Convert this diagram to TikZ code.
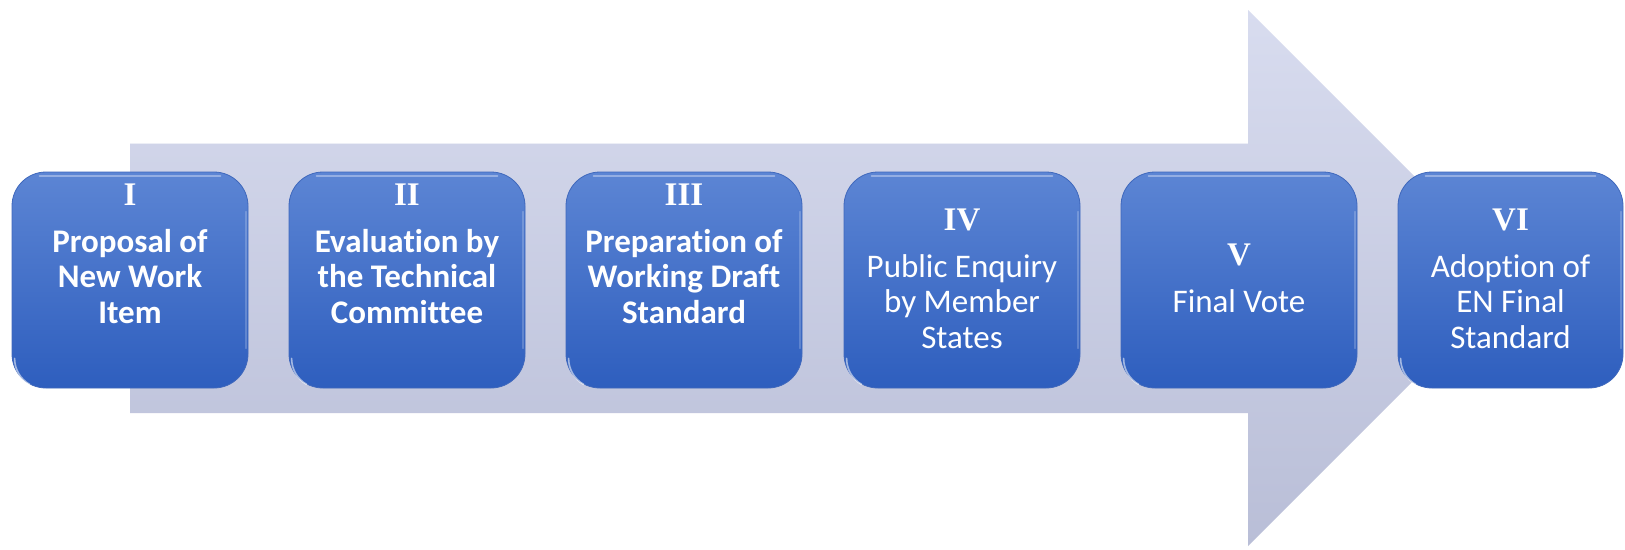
\documentclass[tikz,border=0pt]{standalone}
\usepackage{fontspec}
\setmainfont[Ligatures=NoCommon]{Carlito}
\newfontfamily\numfont{Liberation Serif}
\definecolor{arrowtop}{HTML}{D8DCEF}
\definecolor{arrowbot}{HTML}{B9BED7}
\definecolor{boxtop}{HTML}{5C85D4}
\definecolor{boxbot}{HTML}{2E5EBE}
\definecolor{boxrim}{HTML}{3F68BC}
\newcommand{\stagenum}[1]{{\numfont\bfseries\fontsize{33}{35}\selectfont #1}}
\begin{document}
\begin{tikzpicture}[x=1pt,y=-1pt,
  stagebox/.style={rounded corners=34pt, minimum width=236pt, minimum height=216pt,
    inner sep=0pt, top color=boxtop, bottom color=boxbot, draw=boxrim, line width=0.8pt},
  stagetext/.style={anchor=base, inner sep=0pt, text=white,
    font=\fontsize{33}{35.5}\selectfont},
  gloss/.style={white, line cap=round},
]
\useasboundingbox (0,0) rectangle (1625,549);
\fill[white] (0,0) rectangle (1625,549);

% big process arrow in the background
\coordinate (bodyTL) at (130,143);
\coordinate (bodyBL) at (130,413);
\coordinate (tip) at (1516,278);
\shade[top color=arrowtop, bottom color=arrowbot]
  (bodyTL) -- (1248,143) -- (1248,10) -- (tip) -- (1248,546) -- (1248,413) -- (bodyBL) -- cycle;
\draw[white, opacity=0.6, line width=1.2pt] (bodyTL) -- (1248,143);

% stage boxes
\foreach \i/\cx/\w in {1/130/236,2/407/236,3/684/236,4/962/236,5/1239/236,6/1510.5/225}{
  \node[stagebox, minimum width=\w pt] (s\i) at (\cx,280) {};
  \draw[gloss, opacity=0.35, line width=2pt]
    ([xshift=28pt,yshift=-4pt]s\i.north west) -- ([xshift=-28pt,yshift=-4pt]s\i.north east);
  \draw[gloss, opacity=0.55, line width=1.6pt]
    ([xshift=3pt,yshift=30pt]s\i.south west) arc[start angle=180, end angle=240, radius=30pt];
  \draw[gloss, opacity=0.2, line width=1.2pt]
    ([xshift=-2.5pt,yshift=-40pt]s\i.north east) -- ([xshift=-2.5pt,yshift=40pt]s\i.south east);
}

% stage labels
\node[stagetext] (t1) at (130,205) {\begin{tabular}[t]{@{}c@{}}\stagenum{I}\\[11.5pt]
  \bfseries Proposal of\\ \bfseries New Work\\ \bfseries Item\end{tabular}};
\node[stagetext] (t2) at (407,205) {\begin{tabular}[t]{@{}c@{}}\stagenum{II}\\[11.5pt]
  \bfseries Evaluation by\\ \bfseries the Technical\\ \bfseries Committee\end{tabular}};
\node[stagetext] (t3) at (684,205) {\begin{tabular}[t]{@{}c@{}}\stagenum{III}\\[11.5pt]
  \bfseries Preparation of\\ \bfseries Working Draft\\ \bfseries Standard\end{tabular}};
\node[stagetext] (t4) at (962,230) {\begin{tabular}[t]{@{}c@{}}\stagenum{IV}\\[11.5pt]
  Public Enquiry\\ by Member\\ States\end{tabular}};
\node[stagetext] (t5) at (1239,265) {\begin{tabular}[t]{@{}c@{}}\stagenum{V}\\[11.5pt]
  Final Vote\end{tabular}};
\node[stagetext] (t6) at (1510.5,230) {\begin{tabular}[t]{@{}c@{}}\stagenum{VI}\\[11.5pt]
  Adoption of\\ EN Final\\ Standard\end{tabular}};
\end{tikzpicture}
\end{document}
